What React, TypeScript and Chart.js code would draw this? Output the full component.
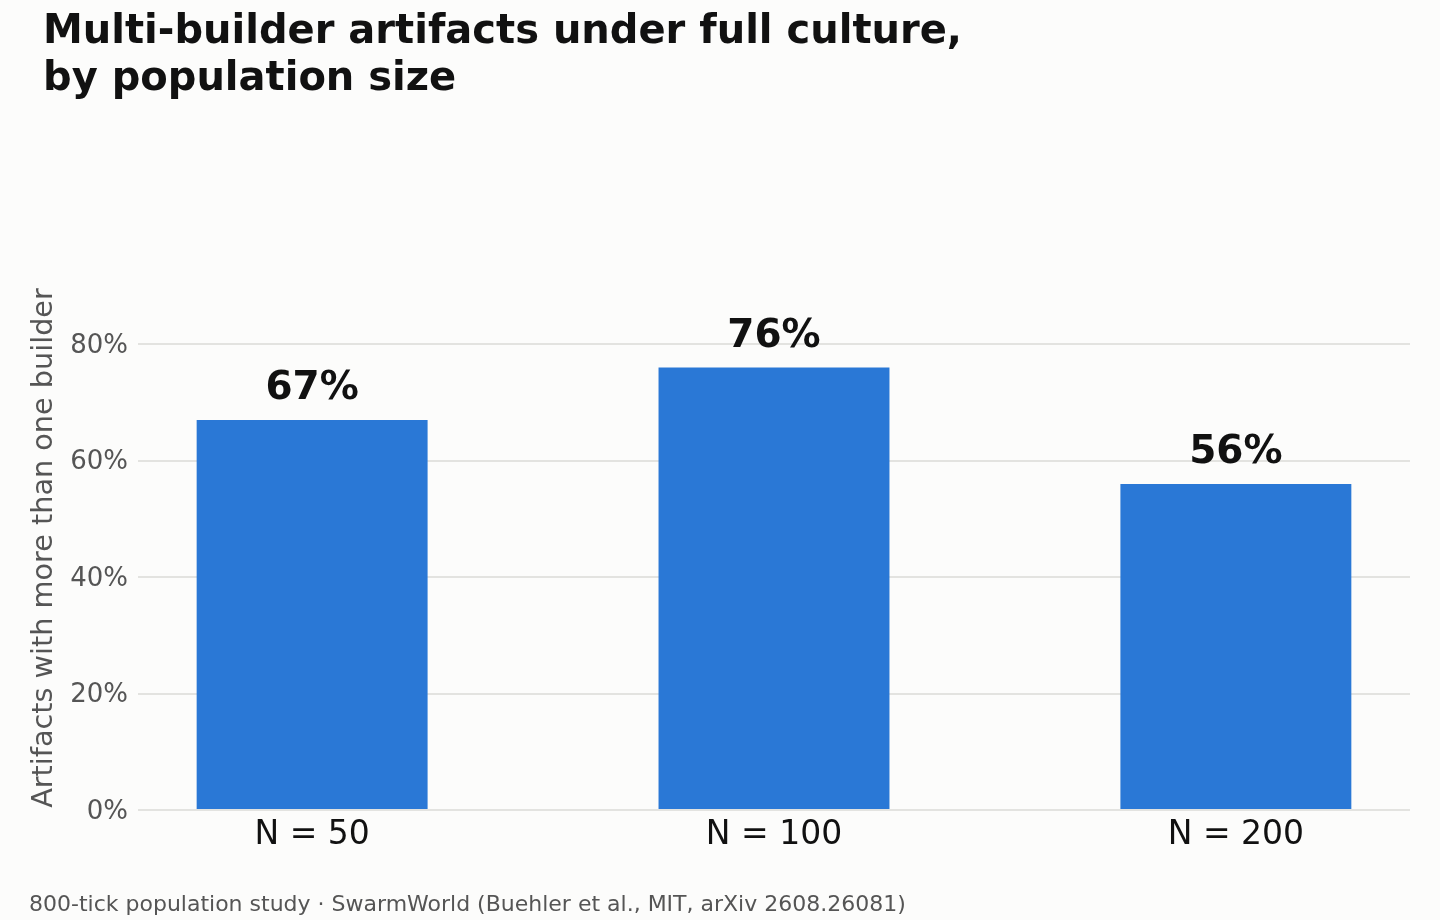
import { useEffect, useRef } from "react";
import { Chart, registerables } from "chart.js";

Chart.register(...registerables);

const categories = ["N = 50", "N = 100", "N = 200"];
const multiBuilderShare = [67, 76, 56];
const yTicks = [0, 20, 40, 60, 80];

const FONT = "'DejaVu Sans', Verdana, sans-serif";
const BAR_BLUE = "#2a78d6";
const GRID = "#e3e3e0";
const GREY_TEXT = "#555555";
const INK = "#111111";

// value labels above each bar
const barLabels = {
  id: "barLabels",
  afterDatasetsDraw(chart: Chart) {
    const { ctx } = chart;
    const meta = chart.getDatasetMeta(0);
    ctx.save();
    ctx.font = `bold 39px ${FONT}`;
    ctx.fillStyle = INK;
    ctx.textAlign = "center";
    ctx.textBaseline = "alphabetic";
    meta.data.forEach((bar: any, i: number) => {
      ctx.fillText(`${multiBuilderShare[i]}%`, bar.x, bar.y - 21);
    });
    ctx.restore();
  },
};

export default function App() {
  const canvasRef = useRef<HTMLCanvasElement | null>(null);
  const chartRef = useRef<Chart | null>(null);

  useEffect(() => {
    const canvas = canvasRef.current;
    if (!canvas) return;

    chartRef.current = new Chart(canvas, {
      type: "bar",
      data: {
        datasets: [
          {
            data: multiBuilderShare.map((v, i) => ({ x: i, y: v })),
            backgroundColor: BAR_BLUE,
            borderWidth: 0,
            barPercentage: 0.5,
            categoryPercentage: 1,
          },
        ],
      },
      options: {
        animation: false,
        responsive: true,
        maintainAspectRatio: false,
        layout: { padding: { top: 286, right: 30, bottom: 0, left: 0 } },
        plugins: {
          legend: { display: false },
          tooltip: { enabled: false },
        },
        scales: {
          x: {
            type: "linear",
            offset: false,
            min: -0.377,
            max: 2.377,
            afterBuildTicks: (scale: any) => {
              scale.ticks = categories.map((_, i) => ({ value: i }));
            },
            afterFit: (scale: any) => {
              scale.height = 110;
            },
            grid: { display: false, drawTicks: false, offset: false },
            border: { display: false },
            ticks: {
              padding: 6,
              color: INK,
              font: { family: FONT, size: 33 },
              callback: (v: any) => categories[Number(v)] ?? "",
            },
          },
          y: {
            min: 0,
            max: 90,
            afterBuildTicks: (scale: any) => {
              scale.ticks = yTicks.map((v) => ({ value: v }));
            },
            afterFit: (scale: any) => {
              scale.width = 138;
            },
            grid: { color: GRID, lineWidth: 2, drawTicks: false },
            border: { display: false },
            ticks: {
              padding: 10,
              labelOffset: 2,
              color: GREY_TEXT,
              font: { family: FONT, size: 26 },
              callback: (v: any) => `${v}%`,
            },
            title: {
              display: true,
              text: "Artifacts with more than one builder",
              color: GREY_TEXT,
              font: { family: FONT, size: 28.7 },
              padding: { top: 27, bottom: 0 },
            },
          },
        },
      },
      plugins: [barLabels],
    });

    return () => {
      chartRef.current?.destroy();
      chartRef.current = null;
    };
  }, []);

  return (
    <div
      style={{
        position: "fixed",
        left: 0,
        top: 0,
        width: 1440,
        height: 920,
        background: "#fcfcfb",
        fontFamily: FONT,
        overflow: "hidden",
      }}
    >
      <div style={{ position: "absolute", left: 0, top: 0, width: 1440, height: 920 }}>
        <canvas ref={canvasRef} />
      </div>
      <div
        style={{
          position: "absolute",
          left: 43,
          top: 6,
          fontSize: 40,
          lineHeight: "47px",
          fontWeight: "bold",
          color: INK,
          whiteSpace: "nowrap",
        }}
      >
        Multi-builder artifacts under full culture,
        <br />
        by population size
      </div>
      <div
        style={{
          position: "absolute",
          left: 29,
          top: 893,
          fontSize: 22,
          lineHeight: "22px",
          color: GREY_TEXT,
          whiteSpace: "nowrap",
        }}
      >
        800-tick population study · SwarmWorld (Buehler et al., MIT, arXiv 2608.26081)
      </div>
    </div>
  );
}
